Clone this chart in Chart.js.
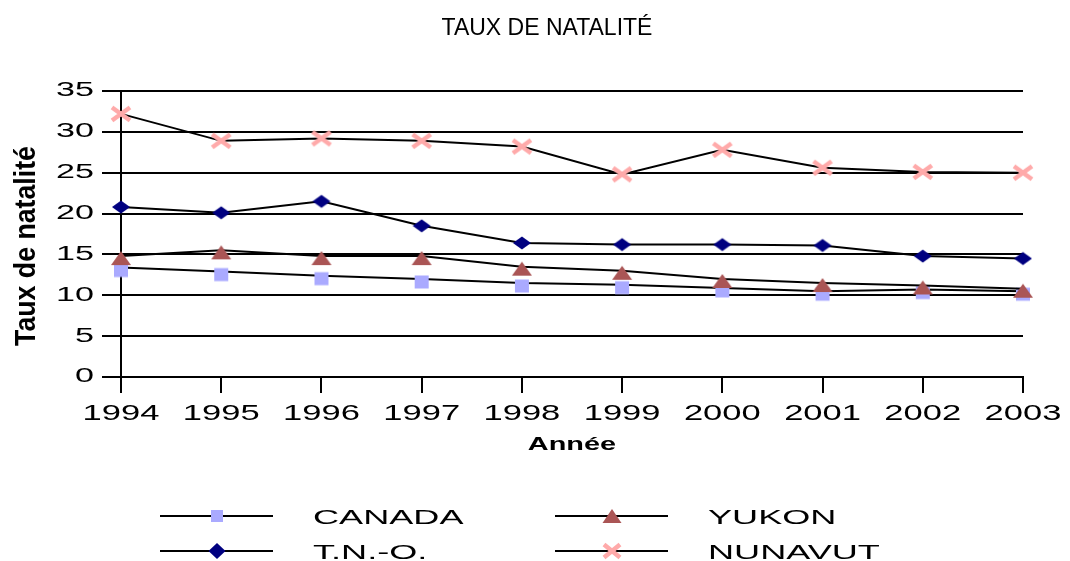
<!DOCTYPE html>
<html>
<head>
<meta charset="utf-8">
<script src="https://cdn.jsdelivr.net/npm/chart.js@4"></script>
<style>
  html, body { margin: 0; padding: 0; background: #fff; }
</style>
</head>
<body>
<canvas id="natalite" width="1070" height="561"></canvas>
<script>
// Data
const years = ['1994', '1995', '1996', '1997', '1998', '1999', '2000', '2001', '2002', '2003'];
const canada = [13.4, 12.9, 12.4, 12.0, 11.5, 11.3, 10.9, 10.5, 10.7, 10.5];
const yukon = [14.8, 15.5, 14.8, 14.8, 13.5, 13.0, 12.0, 11.5, 11.2, 10.8];
const tno = [20.8, 20.1, 21.5, 18.5, 16.4, 16.2, 16.2, 16.1, 14.8, 14.5];
const nunavut = [32.2, 28.9, 29.2, 28.9, 28.2, 24.8, 27.8, 25.6, 25.1, 25.0];

const chartTitle = 'TAUX DE NATALITÉ';
const yTitle = 'Taux de natalité';
const xTitle = 'Année';

// small canvases used as point markers (dy pushes the marker down a bit like the original)
function makeMarker(kind, color, dy, w, h) {
  const c = document.createElement('canvas');
  c.width = 26;
  c.height = 26 + 2 * dy;
  const g = c.getContext('2d');
  const cx = 13, cy = c.height / 2 + dy;
  const hw = w / 2, hh = h / 2;
  g.fillStyle = color;
  g.strokeStyle = color;
  g.beginPath();
  if (kind === 'square') {
    g.fillRect(cx - hw, cy - hh, w, h);
  } else if (kind === 'diamond') {
    g.moveTo(cx - hw, cy); g.lineTo(cx, cy - hh); g.lineTo(cx + hw, cy); g.lineTo(cx, cy + hh);
    g.closePath(); g.fill();
  } else if (kind === 'triangle') {
    g.moveTo(cx - hw, cy + hh); g.lineTo(cx, cy - hh); g.lineTo(cx + hw, cy + hh);
    g.closePath(); g.fill();
  } else if (kind === 'cross') {
    g.lineWidth = 4.5;
    g.moveTo(cx - hw, cy - hh); g.lineTo(cx + hw, cy + hh);
    g.moveTo(cx - hw, cy + hh); g.lineTo(cx + hw, cy - hh);
    g.stroke();
  }
  return c;
}

const COL_CANADA = '#aaaaff';
const COL_YUKON = '#aa5555';
const COL_TNO = '#000080';
const COL_NUNAVUT = '#ffaaaa';

// legend layout: [label, marker, column, row]
const legendItems = [
  ['CANADA', makeMarker('square', COL_CANADA, 0, 12, 12), 0, 0],
  ['YUKON', makeMarker('triangle', COL_YUKON, 0, 19, 14), 1, 0],
  ['T.N.-O.', makeMarker('diamond', COL_TNO, 0, 17, 16), 0, 1],
  ['NUNAVUT', makeMarker('cross', COL_NUNAVUT, 0, 16, 13), 1, 1],
];

// horizontal stretch of the axis texts, the Excel export widened its fonts
const stretch = {
  x: { labels: 1.57, title: 1.52 },
  y: { labels: 1.75, title: 1 },
};

// Chart.js translates then rotates before each fillText; scaling right after the
// rotate stretches every label around its own anchor
function withStretch(fn, sx) {
  return function (...args) {
    const ctx = this.ctx;
    const rotate = CanvasRenderingContext2D.prototype.rotate;
    ctx.rotate = function (a) { rotate.call(this, a); this.scale(sx, 1); };
    try {
      fn.apply(this, args);
    } finally {
      delete ctx.rotate;
    }
  };
}

const extrasPlugin = {
  id: 'extras',
  afterUpdate(chart) {
    Object.values(chart.scales).forEach((s) => {
      if (s._stretched) return;
      s._stretched = true;
      const st = stretch[s.id];
      s.drawLabels = withStretch(s.drawLabels, st.labels);
      s.drawTitle = withStretch(s.drawTitle, st.title);
    });
  },
  afterDraw(chart) {
    const ctx = chart.ctx;

    // chart title
    ctx.save();
    ctx.font = '23px "Liberation Sans"';
    ctx.fillStyle = '#000';
    ctx.textAlign = 'center';
    ctx.textBaseline = 'alphabetic';
    ctx.fillText(chartTitle, 547, 35);
    ctx.restore();

    // y axis title (compressed along the text like the original)
    ctx.save();
    ctx.translate(35, 246);
    ctx.rotate(-Math.PI / 2);
    ctx.scale(0.89, 1);
    ctx.font = 'bold 30px "Liberation Sans"';
    ctx.fillStyle = '#000';
    ctx.textAlign = 'center';
    ctx.textBaseline = 'alphabetic';
    ctx.fillText(yTitle, 0, 0);
    ctx.restore();

    // legend
    const colX = [160, 555];
    const rowY = [516, 551];
    legendItems.forEach(([label, marker, col, row]) => {
      const x = colX[col], y = rowY[row];
      ctx.save();
      ctx.strokeStyle = '#000';
      ctx.lineWidth = 2;
      ctx.beginPath();
      ctx.moveTo(x, y);
      ctx.lineTo(x + 113, y);
      ctx.stroke();
      ctx.drawImage(marker, x + 57 - marker.width / 2, y - marker.height / 2);
      ctx.translate(x + 153, y + 7.5);
      ctx.scale(1.72, 1);
      ctx.font = '21px "Liberation Sans"';
      ctx.fillStyle = '#000';
      ctx.textAlign = 'left';
      ctx.textBaseline = 'alphabetic';
      ctx.fillText(label, 0, 0);
      ctx.restore();
    });
  },
};

const lineDefaults = {
  borderColor: '#000',
  borderWidth: 2,
  tension: 0,
  fill: false,
  pointRadius: 6,
  clip: false,
};

new Chart(document.getElementById('natalite'), {
  type: 'line',
  data: {
    labels: years,
    datasets: [
      { ...lineDefaults, label: 'CANADA', data: canada, order: 2, pointStyle: makeMarker('square', COL_CANADA, 3, 14, 13) },
      { ...lineDefaults, label: 'YUKON', data: yukon, order: 1, pointStyle: makeMarker('triangle', COL_YUKON, 2, 20, 14) },
      { ...lineDefaults, label: 'T.N.-O.', data: tno, order: 0, pointStyle: makeMarker('diamond', COL_TNO, 0, 18, 13) },
      { ...lineDefaults, label: 'NUNAVUT', data: nunavut, order: 0, pointStyle: makeMarker('cross', COL_NUNAVUT, 0, 18, 13) },
    ],
  },
  options: {
    responsive: false,
    devicePixelRatio: 1,
    animation: false,
    events: [],
    layout: { padding: { top: 91, left: 0, right: 47, bottom: 104 } },
    plugins: {
      legend: { display: false },
      tooltip: { enabled: false },
      title: { display: false },
    },
    scales: {
      x: {
        offset: false,
        afterFit: (scale) => { scale.height = 80; },
        grid: { drawOnChartArea: false, color: '#000', lineWidth: 2, tickLength: 16 },
        border: { display: true, color: '#000', width: 2 },
        ticks: {
          color: '#000',
          padding: 8,
          maxRotation: 0,
          autoSkip: false,
          font: { family: '"Liberation Sans"', size: 22 },
        },
        title: {
          display: true,
          text: xTitle,
          color: '#000',
          font: { family: '"Liberation Sans"', size: 19, weight: 'bold' },
          padding: { top: 0, bottom: 1 },
        },
      },
      y: {
        min: 0,
        max: 35,
        afterFit: (scale) => { scale.width = 121; },
        grid: { color: '#000', lineWidth: 2, tickLength: 19 },
        border: { display: true, color: '#000', width: 2 },
        ticks: {
          stepSize: 5,
          color: '#000',
          padding: 8,
          font: { family: '"Liberation Sans"', size: 19.5 },
        },
      },
    },
  },
  plugins: [extrasPlugin],
});
</script>
</body>
</html>
